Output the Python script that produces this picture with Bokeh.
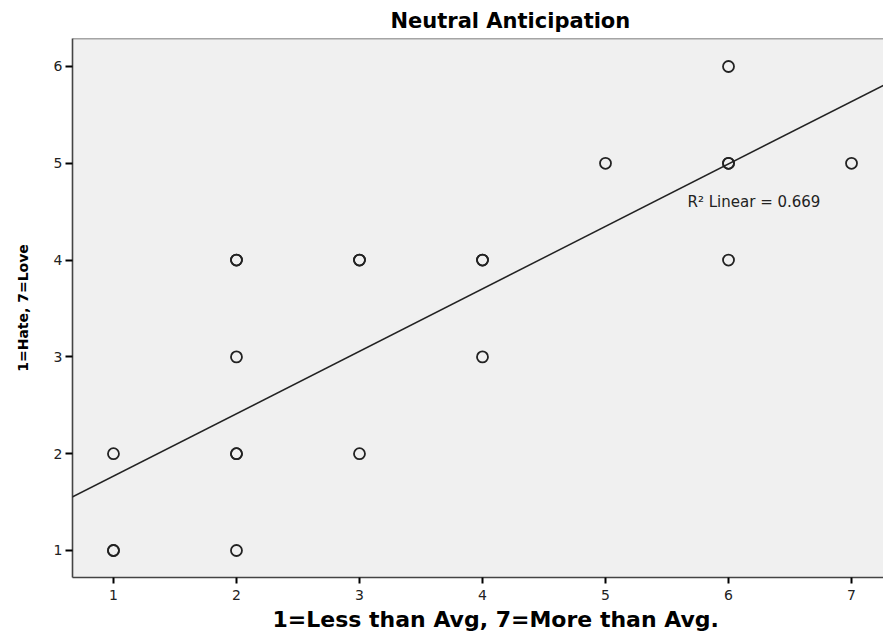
from bokeh.plotting import figure
from bokeh.models import Label, Span, Slope, Range1d, FixedTicker, ColumnDataSource, Title
from bokeh.embed import file_html
from bokeh.resources import INLINE

# Survey responses (repeated pairs are listed twice)
spending = [1, 1, 1, 2, 2, 2, 2, 2, 2, 3, 3, 3, 4, 4, 4, 5, 6, 6, 6, 6, 7]
feeling = [1, 1, 2, 1, 2, 2, 3, 4, 4, 2, 4, 4, 3, 4, 4, 5, 4, 5, 5, 6, 5]

# Linear fit
fit_slope = 0.645
fit_intercept = 1.123
r_squared = 0.669

x_ticks = [1, 2, 3, 4, 5, 6, 7]
y_ticks = [1, 2, 3, 4, 5, 6]

title_text = "Neutral Anticipation"
x_label_text = "1=Less than Avg, 7=More than Avg."
y_label_text = "1=Hate, 7=Love"

W, H = 883, 637
LEFT, TOP, BOTTOM = 72, 38, 60
x_lo, x_hi = 0.667, 7.26
y_lo, y_hi = 0.721, 6.289

p = figure(
    width=W, height=H,
    output_backend="svg", toolbar_location=None,
    x_range=Range1d(x_lo, x_hi), y_range=Range1d(y_lo, y_hi),
    min_border_left=LEFT, min_border_right=0,
    min_border_top=TOP, min_border_bottom=BOTTOM,
)
p.background_fill_color = "#f0f0f0"
p.border_fill_color = "white"
p.outline_line_color = None
p.xgrid.visible = False
p.ygrid.visible = False

# chart title, placed by its left edge
p.title.text = title_text
p.title.align = "left"
p.title.offset = 318
p.title.text_font = "DejaVu Sans"
p.title.text_font_style = "bold"
p.title.text_font_size = "21px"
p.title.text_color = "black"
p.title.standoff = 12

for ax in (p.xaxis, p.yaxis):
    ax.axis_line_color = "#444444"
    ax.axis_line_width = 1.6
    ax.major_tick_line_color = "black"
    ax.major_tick_line_width = 2
    ax.major_tick_in = 0
    ax.minor_tick_line_color = None
    ax.major_label_text_font = "DejaVu Sans"
    ax.major_label_text_font_size = "14px"
    ax.major_label_text_color = "#222222"

p.xaxis.ticker = FixedTicker(ticks=x_ticks)
p.yaxis.ticker = FixedTicker(ticks=y_ticks)
p.xaxis.major_tick_out = 6
p.yaxis.major_tick_out = 7
p.xaxis.major_label_standoff = 6
p.yaxis.major_label_standoff = 3

p.yaxis.axis_label = y_label_text
p.yaxis.axis_label_text_font = "DejaVu Sans"
p.yaxis.axis_label_text_font_style = "bold"
p.yaxis.axis_label_text_font_size = "14px"
p.yaxis.axis_label_text_color = "black"
p.yaxis.axis_label_standoff = 20

# horizontal axis caption, placed below the tick labels
p.add_layout(Title(text=x_label_text, align="left", offset=200,
                   text_font="DejaVu Sans", text_font_style="bold",
                   text_font_size="22px", text_color="black", standoff=4), "below")

# top edge of the plotting area
p.add_layout(Span(location=y_hi, dimension="width", line_color="#555555", line_width=1.6))

src = ColumnDataSource(data=dict(x=spending, y=feeling))
p.scatter("x", "y", source=src, marker="circle", size=11,
          fill_color=None, line_color="#222222", line_width=1.8)

p.add_layout(Slope(gradient=fit_slope, y_intercept=fit_intercept,
                   line_color="#222222", line_width=1.5))

p.add_layout(Label(x=5.667, y=4.595, text=f"R\u00b2 Linear = {r_squared:.3f}",
                   text_font="DejaVu Sans", text_font_size="15px",
                   text_color="#222222", text_baseline="middle", text_align="left"))

open("out.html", "w").write(file_html(p, INLINE))
